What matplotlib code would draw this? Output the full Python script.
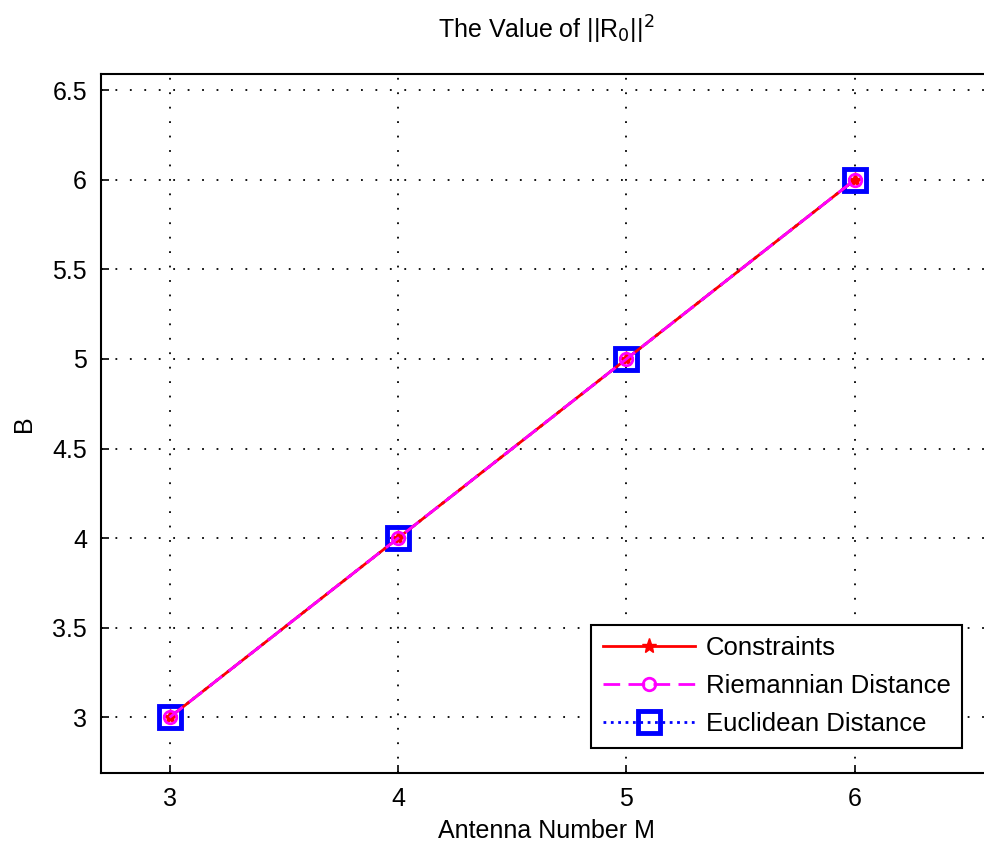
import matplotlib.pyplot as plt

# data
antennas = [3, 4, 5, 6]
constraints = [3.0, 4.0, 5.0, 6.0]
riemannian = [3.0, 4.0, 5.0, 6.0]
euclidean = [3.0, 4.0, 5.0, 6.0]
x_ticks = [3, 4, 5, 6]
y_ticks = [3, 3.5, 4, 4.5, 5, 5.5, 6, 6.5]

plt.rcParams['font.family'] = ['Liberation Sans', 'DejaVu Sans']

fig = plt.figure(figsize=(9.84, 8.48), dpi=100)
# right spine falls outside the picture in the reference
ax = fig.add_axes([101/984, 75/848, 891/984, 699/848])

ax.plot(antennas, euclidean, color='blue', linestyle=':', linewidth=2,
        marker='s', markersize=16, markerfacecolor='none', markeredgewidth=3.5,
        label='Euclidean Distance', zorder=3)
ax.plot(antennas, constraints, color='red', linestyle='-', linewidth=2,
        marker='*', markersize=11, label='Constraints', zorder=4)
ax.plot(antennas, riemannian, color='magenta', linestyle=(0, (6, 3)), linewidth=2,
        marker='o', markersize=9, markerfacecolor='none', markeredgewidth=2,
        label='Riemannian Distance', zorder=5)

ax.set_xlim(2.7, 6.6)
ax.set_ylim(2.69, 6.59)
ax.set_xticks(x_ticks)
ax.set_yticks(y_ticks)
ax.set_yticklabels([f'{v:g}' for v in y_ticks])
ax.tick_params(direction='in', labelsize=18, length=6, width=1.2, pad=10)
ax.grid(True, color='black', linestyle=(0, (1, 7)), linewidth=1.3)
for s in ax.spines.values():
    s.set_linewidth(1.5)

ax.set_xlabel('Antenna Number M', fontsize=18, labelpad=6)
ax.set_ylabel('B', fontsize=18, labelpad=12)
fig.text(546/984, 1 - 30/848, r'The Value of ||R$_0$||$^2$', fontsize=18,
         ha='center', va='center', math_fontfamily='dejavusans')

h, l = ax.get_legend_handles_labels()
order = [1, 2, 0]
leg = ax.legend([h[i] for i in order], [l[i] for i in order], loc='lower right',
                bbox_to_anchor=(962/984, 100/848), bbox_transform=fig.transFigure,
                borderaxespad=0, fontsize=18.5, fancybox=False, edgecolor='black',
                framealpha=1, handlelength=3.6, handletextpad=0.4,
                borderpad=0.45, labelspacing=0.55)
leg.get_frame().set_linewidth(1.5)

fig.savefig('out.png', dpi=100)
